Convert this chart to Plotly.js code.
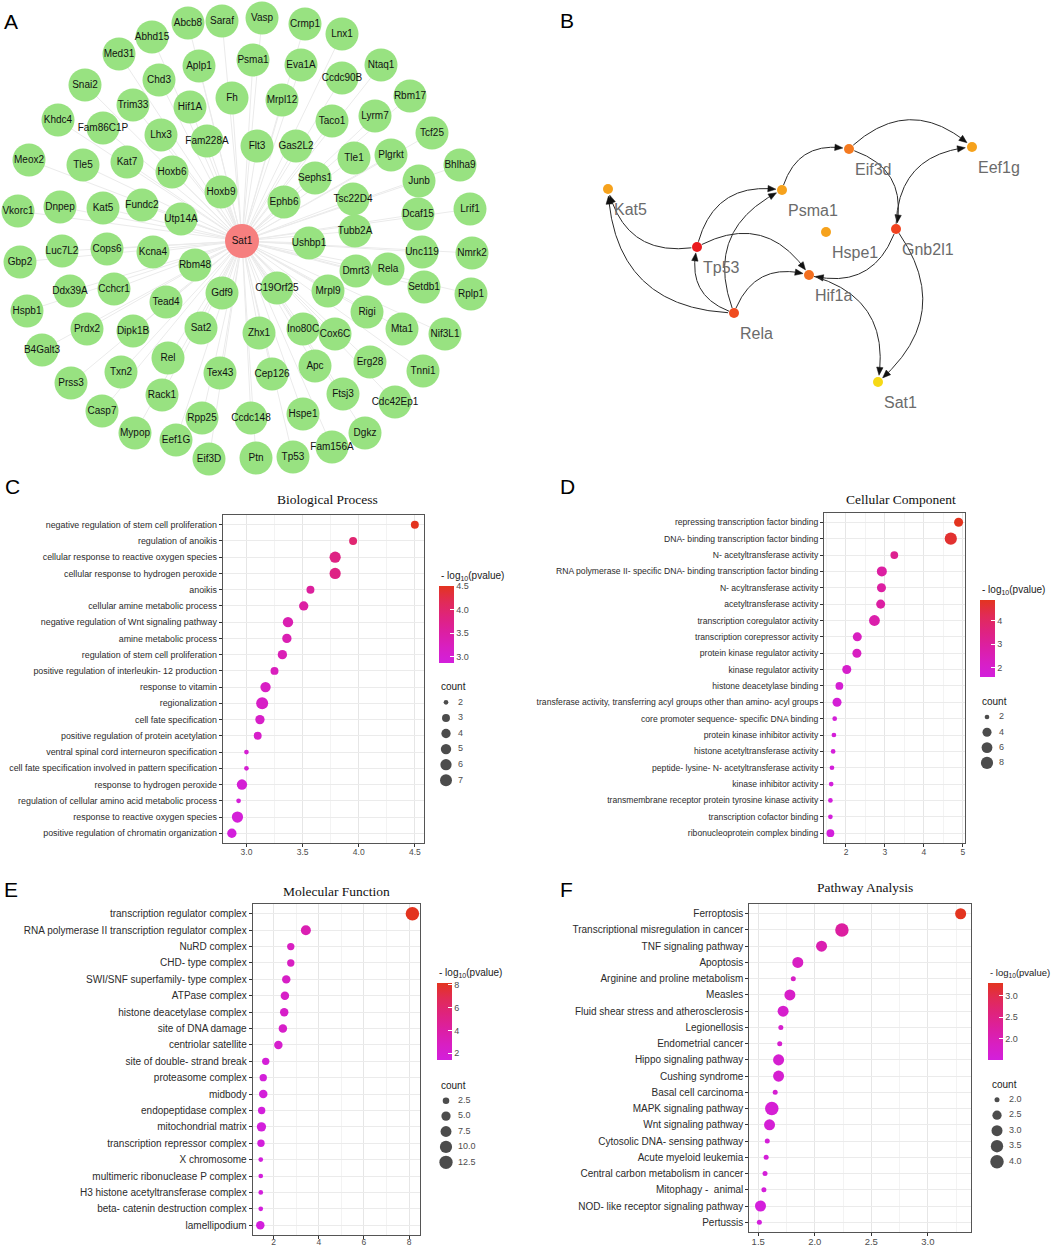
<!DOCTYPE html>
<html><head><meta charset="utf-8">
<script src="https://cdn.plot.ly/plotly-3.0.1.min.js"></script>
<style>html,body{margin:0;padding:0;background:#fff}</style>
</head><body>
<div id="chart" style="width:1052px;height:1248px"></div>
<script>
// ================= DATA =================
// Panel A: Sat1 co-expression network (hub + neighbours)
const hubName = 'Sat1';
const netA_names = ['Abcb8','Saraf','Vasp','Crmp1','Lnx1','Abhd15','Med31','Aplp1','Psma1','Eva1A','Ntaq1','Ccdc90B','Chd3','Snai2','Rbm17','Trim33','Hif1A','Fh','Mrpl12','Khdc4','Fam86C1P','Taco1','Lyrm7','Tcf25','Lhx3','Fam228A','Flt3','Gas2L2','Meox2','Tle5','Kat7','Hoxb6','Tle1','Plgrkt','Bhlha9','Sephs1','Junb','Vkorc1','Dnpep','Kat5','Fundc2','Hoxb9','Ephb6','Tsc22D4','Dcaf15','Lrif1','Utp14A','Tubb2A','Ushbp1','Unc119','Nmrk2','Gbp2','Luc7L2','Cops6','Kcna4','Rbm48','Dmrt3','Rela','Setdb1','Rplp1','Ddx39A','Cchcr1','Tead4','Gdf9','C19Orf25','Mrpl9','Hspb1','Rigi','Prdx2','Dipk1B','Sat2','Zhx1','Ino80C','Cox6C','Mta1','Nif3L1','B4Galt3','Rel','Erg28','Txn2','Tex43','Cep126','Apc','Tnni1','Prss3','Rack1','Ftsj3','Cdc42Ep1','Casp7','Rpp25','Ccdc148','Hspe1','Mypop','Eef1G','Dgkz','Fam156A','Eif3D','Ptn','Tp53'];
// layout coordinates of the network drawing (pixels of panel A)
const hubXY = [242, 241];
const netA_x = [188,222,262,305,342,152,119,199,253,301,381,342,159,85,410,133,190,232,282,58,103,332,375,432,161,207,257,296,29,83,127,172,354,391,460,315,419,18,60,103,142,221,284,353,418,470,181,355,309,422,472,20,62,107,153,195,356,388,424,471,70,114,166,222,277,328,27,367,87,133,201,259,303,335,402,445,42,168,370,121,220,272,315,423,71,162,343,395,102,202,251,303,135,176,365,332,209,256,293];
const netA_y = [23,21,18,24,34,37,54,66,60,65,65,78,80,85,96,105,107,98,100,120,128,121,116,133,135,141,146,146,160,165,162,172,158,155,165,178,181,211,207,208,205,192,202,199,214,209,219,231,243,252,253,262,251,249,252,265,271,269,287,294,291,289,302,293,288,291,311,312,329,331,328,333,329,334,329,334,350,358,362,372,373,374,366,371,383,395,394,402,411,418,418,414,433,440,433,447,459,458,457];

// Panel B: directed regulatory network
const netB_names = ['Kat5','Psma1','Eif3d','Eef1g','Hspe1','Gnb2l1','Tp53','Hif1a','Rela','Sat1'];
const netB_x = [608,782,849,972,826,896,697,809,734,878];
const netB_y = [189,190,149,147,232,229,247,275,313,382];
const netB_from = ['Psma1','Eif3d','Eif3d','Gnb2l1','Gnb2l1','Gnb2l1','Hif1a','Tp53','Rela','Rela','Rela','Tp53','Tp53','Rela'];
const netB_to   = ['Eif3d','Eef1g','Gnb2l1','Eef1g','Hif1a','Sat1','Sat1','Kat5','Kat5','Tp53','Psma1','Psma1','Hif1a','Hif1a'];

// Panel C: Biological Process
const bpTerms = ['negative regulation of stem cell proliferation','regulation of anoikis','cellular response to reactive oxygen species','cellular response to hydrogen peroxide','anoikis','cellular amine metabolic process','negative regulation of Wnt signaling pathway','amine metabolic process','regulation of stem cell proliferation','positive regulation of interleukin- 12 production','response to vitamin','regionalization','cell fate specification','positive regulation of protein acetylation','ventral spinal cord interneuron specification','cell fate specification involved in pattern specification','response to hydrogen peroxide','regulation of cellular amino acid metabolic process','response to reactive oxygen species','positive regulation of chromatin organization'];
const bpLogP  = [4.50,3.95,3.79,3.79,3.57,3.51,3.37,3.36,3.32,3.25,3.17,3.14,3.12,3.10,3.00,3.00,2.96,2.93,2.92,2.87];
const bpCount = [3,3,6,6,3,4,5,4,4,3,5,7,4,3,2,2,5,2,6,4];
const bpLegend = [2,3,4,5,6,7];

// Panel D: Cellular Component
const ccTerms = ['repressing transcription factor binding','DNA- binding transcription factor binding','N- acetyltransferase activity','RNA polymerase II- specific DNA- binding transcription factor binding','N- acyltransferase activity','acetyltransferase activity','transcription coregulator activity','transcription corepressor activity','protein kinase regulator activity','kinase regulator activity','histone deacetylase binding','transferase activity, transferring acyl groups other than amino- acyl groups','core promoter sequence- specific DNA binding','protein kinase inhibitor activity','histone acetyltransferase activity','peptide- lysine- N- acetyltransferase activity','kinase inhibitor activity','transmembrane receptor protein tyrosine kinase activity','transcription cofactor binding','ribonucleoprotein complex binding'];
const ccLogP  = [4.89,4.69,3.24,2.92,2.91,2.89,2.73,2.29,2.28,2.02,1.83,1.77,1.71,1.69,1.67,1.64,1.62,1.60,1.60,1.60];
const ccCount = [4,8,3,5,4,4,6,4,4,4,3,4,2,2,2,2,2,2,2,3];
const ccLegend = [2,4,6,8];

// Panel E: Molecular Function
const mfTerms = ['transcription regulator complex','RNA polymerase II transcription regulator complex','NuRD complex','CHD- type complex','SWI/SNF superfamily- type complex','ATPase complex','histone deacetylase complex','site of DNA damage','centriolar satellite','site of double- strand break','proteasome complex','midbody','endopeptidase complex','mitochondrial matrix','transcription repressor complex','X chromosome','multimeric ribonuclease P complex','H3 histone acetyltransferase complex','beta- catenin destruction complex','lamellipodium'];
const mfLogP  = [8.15,3.43,2.76,2.76,2.56,2.50,2.47,2.41,2.21,1.65,1.54,1.54,1.47,1.46,1.44,1.43,1.43,1.43,1.43,1.41];
const mfCount = [13,6,3,3,4,4,4,4,4,3,3,4,3,5,3,2,2,2,2,4];
const mfLegend = [2.5,5.0,7.5,10.0,12.5];

// Panel F: Pathway Analysis
const kgTerms = ['Ferroptosis','Transcriptional misregulation in cancer','TNF signaling pathway','Apoptosis','Arginine and proline metabolism','Measles','Fluid shear stress and atherosclerosis','Legionellosis','Endometrial cancer','Hippo signaling pathway','Cushing syndrome','Basal cell carcinoma','MAPK signaling pathway','Wnt signaling pathway','Cytosolic DNA- sensing pathway','Acute myeloid leukemia','Central carbon metabolism in cancer','Mitophagy -  animal','NOD- like receptor signaling pathway','Pertussis'];
const kgLogP  = [3.29,2.24,2.06,1.85,1.81,1.78,1.72,1.70,1.69,1.68,1.68,1.65,1.62,1.60,1.58,1.57,1.56,1.55,1.52,1.51];
const kgCount = [3,4,3,3,2,3,3,2,2,3,3,2,4,3,2,2,2,2,3,2];
const kgLegend = [2.0,2.5,3.0,3.5,4.0];

// ================= STYLE / LAYOUT =================
const W = 1052, H = 1248;
const SANS = 'Liberation Sans, Arial, sans-serif';
const SERIF = 'Liberation Serif, Times New Roman, serif';
const CS = [[0,'#d31fdc'],[0.2,'#d81fc2'],[0.4,'#dc1fa2'],[0.6,'#df237e'],[0.8,'#e12b56'],[1,'#e3341f']];
const traces = [];
const annotations = [];
const layout = {
  width: W, height: H, margin: {l:0,r:0,t:0,b:0},
  paper_bgcolor: '#ffffff', plot_bgcolor: 'rgba(0,0,0,0)',
  showlegend: false, font: {family: SANS},
  xaxis5: {domain:[0,1], range:[0,W], visible:false, fixedrange:true},
  yaxis5: {domain:[0,1], range:[H,0], visible:false, fixedrange:true, anchor:'x5'},
  annotations: annotations
};
function pAnno(x, y, text, opt) {
  annotations.push(Object.assign({xref:'x5', yref:'y5', x:x, y:y, text:text, showarrow:false,
    xanchor:'center', yanchor:'middle', font:{family:SANS, size:10, color:'#1a1a1a'}}, opt||{}));
}

// ---------- Panel A ----------
(function(){
  const ex = [], ey = [];
  netA_x.forEach((x,i)=>{ ex.push(hubXY[0], x, null); ey.push(hubXY[1], netA_y[i], null); });
  traces.push({type:'scatter', mode:'lines', x:ex, y:ey, xaxis:'x5', yaxis:'y5',
    line:{color:'#ebebeb', width:1}, hoverinfo:'skip'});
  traces.push({type:'scatter', mode:'markers+text', x:netA_x, y:netA_y, text:netA_names,
    xaxis:'x5', yaxis:'y5', textposition:'middle center', cliponaxis:false,
    marker:{size:33, color:'#98e281', line:{width:0}},
    textfont:{family:SANS, size:10, color:'#111'}, hoverinfo:'text'});
  traces.push({type:'scatter', mode:'markers+text', x:[hubXY[0]], y:[hubXY[1]], text:[hubName],
    xaxis:'x5', yaxis:'y5', textposition:'middle center', cliponaxis:false,
    marker:{size:34, color:'#f67f7f', line:{width:0}},
    textfont:{family:SANS, size:10, color:'#111'}, hoverinfo:'text'});
})();

// ---------- Panel B ----------
(function(){
  const CURV = -0.23, startGap = 5, tipGap = 6, headLen = 8, headW = 3.2;
  const nodeColor = {Kat5:'#f6a21c', Psma1:'#f6a21c', Eif3d:'#f47a20', Eef1g:'#f6a21c', Hspe1:'#f6a21c',
    Gnb2l1:'#f1431f', Tp53:'#ea1a1e', Hif1a:'#f36f20', Rela:'#f04b1f', Sat1:'#f6d916'};
  const pos = name => { const i = netB_names.indexOf(name); return [netB_x[i], netB_y[i]]; };
  netB_from.forEach((f,i)=>{
    const [x0,y0] = pos(f), [x2,y2] = pos(netB_to[i]);
    const dx = x2-x0, dy = y2-y0, L = Math.hypot(dx,dy);
    const nx = -dy/L, ny = dx/L;
    const cx = (x0+x2)/2 + 2*CURV*L*nx, cy = (y0+y2)/2 + 2*CURV*L*ny;
    const pts = [];
    for (let j=0;j<=200;j++){ const t=j/200, u=1-t;
      pts.push([u*u*x0+2*u*t*cx+t*t*x2, u*u*y0+2*u*t*cy+t*t*y2]); }
    let s = 0; while (s<pts.length-1 && Math.hypot(pts[s][0]-x0,pts[s][1]-y0)<startGap) s++;
    let e = pts.length-1; while (e>0 && Math.hypot(pts[e][0]-x2,pts[e][1]-y2)<tipGap) e--;
    const tip = pts[e];
    let k = e; while (k>0 && Math.hypot(pts[k][0]-tip[0],pts[k][1]-tip[1])<headLen) k--;
    let ux = tip[0]-pts[k][0], uy = tip[1]-pts[k][1]; const ul = Math.hypot(ux,uy); ux/=ul; uy/=ul;
    const bx = tip[0]-ux*headLen, by = tip[1]-uy*headLen;
    const lx = [], ly = [];
    for (let j=s;j<=k+1 && j<=e;j++){ lx.push(pts[j][0]); ly.push(pts[j][1]); }
    traces.push({type:'scatter', mode:'lines', x:lx, y:ly, xaxis:'x5', yaxis:'y5',
      line:{color:'#2a2a2a', width:1}, hoverinfo:'skip'});
    traces.push({type:'scatter', mode:'lines', fill:'toself', fillcolor:'#111',
      x:[tip[0], bx-uy*headW, bx+uy*headW, tip[0]], y:[tip[1], by+ux*headW, by-ux*headW, tip[1]],
      xaxis:'x5', yaxis:'y5', line:{color:'#111', width:0.5}, hoverinfo:'skip'});
  });
  traces.push({type:'scatter', mode:'markers', x:netB_x, y:netB_y, xaxis:'x5', yaxis:'y5',
    marker:{size:10, color:netB_names.map(n=>nodeColor[n]), line:{width:0}}, hoverinfo:'skip'});
  traces.push({type:'scatter', mode:'text', x:netB_x.map(v=>v+6), y:netB_y.map(v=>v+22),
    text:netB_names, xaxis:'x5', yaxis:'y5', textposition:'middle right', cliponaxis:false,
    textfont:{family:SANS, size:16, color:'#6b6b6b'}, hoverinfo:'skip'});
})();

// ---------- Dot plots ----------
function dotplot(k, P){
  const ax = k===1 ? '' : String(k);
  const n = P.terms.length;
  const vmin = Math.min(...P.vals), vmax = Math.max(...P.vals), span = vmax - vmin;
  const cmin = Math.min(...P.counts), cmax = Math.max(...P.counts);
  const diam = c => P.dmin + (P.dmax-P.dmin)*Math.sqrt(Math.max(0,(c-cmin))/(cmax-cmin));
  traces.push({type:'scatter', mode:'markers', x:P.vals, y:P.terms, xaxis:'x'+ax, yaxis:'y'+ax,
    cliponaxis:false, hoverinfo:'x+y',
    marker:{size:P.counts.map(diam), color:P.vals, colorscale:CS, cmin:vmin, cmax:vmax,
      line:{width:0}, opacity:1, showscale:true,
      colorbar:{x:P.cb[0]/W, xanchor:'left', y:1-P.cb[1]/H, yanchor:'top',
        len:77, lenmode:'pixels', thickness:15, thicknessmode:'pixels', xpad:0, ypad:0,
        outlinewidth:0, borderwidth:0, ticks:'inside', ticklen:4, tickcolor:'#ffffff', tickwidth:1,
        tickvals:P.cbTicks, tickformat:P.tickfmt, tickfont:{family:SANS, size:9, color:'#4d4d4d'}}}});
  const axisFont = {family:SANS, size:P.fs, color:'#2b2b2b'};
  layout['xaxis'+ax] = {domain:[P.l/W, P.r/W], anchor:'y'+ax, range:[vmin-0.05*span, vmax+0.05*span],
    tick0:0, dtick:P.dtick, tickformat:P.tickfmt, ticks:'outside', ticklen:3, tickcolor:'#333',
    ticklabelstandoff:P.xso,
    tickfont:{family:SANS, size:P.xfs, color:'#4d4d4d'},
    showgrid:true, gridcolor:'#e6e6e6', gridwidth:1, zeroline:false,
    minor:{dtick:P.dtick/2, tick0:0, showgrid:true, gridcolor:'#f3f3f3', gridwidth:1},
    showline:true, mirror:true, linecolor:'#555', linewidth:1, fixedrange:true};
  layout['yaxis'+ax] = {domain:[1-P.b/H, 1-P.t/H], anchor:'x'+ax, type:'category',
    categoryorder:'array', categoryarray:P.terms, range:[n-1+0.6, -0.6],
    ticks:'outside', ticklen:3, tickcolor:'#333', tickfont:axisFont,
    showgrid:true, gridcolor:'#ebebeb', gridwidth:1, zeroline:false,
    showline:true, mirror:true, linecolor:'#555', linewidth:1, fixedrange:true};
  // title
  pAnno(P.title[1], P.title[2], P.title[0], {font:{family:SERIF, size:13.5, color:'#111'}});
  // colour legend title
  pAnno(P.cb[0], P.cb[1]-10, '- log<sub>10</sub>(pvalue)', {xanchor:'left', font:{family:SANS, size:P.cbfs||10, color:'#1a1a1a'}});
  // size legend
  const L = P.leg;
  pAnno(L.x-7, L.y0-15.5, 'count', {xanchor:'left', font:{family:SANS, size:10, color:'#1a1a1a'}});
  traces.push({type:'scatter', mode:'markers', xaxis:'x5', yaxis:'y5', hoverinfo:'skip',
    x:P.legVals.map(()=>L.x), y:P.legVals.map((v,i)=>L.y0+i*L.dy),
    marker:{size:P.legVals.map(diam), color:'#000', line:{width:0}}});
  traces.push({type:'scatter', mode:'text', xaxis:'x5', yaxis:'y5', hoverinfo:'skip', cliponaxis:false,
    x:P.legVals.map(()=>L.x+12), y:P.legVals.map((v,i)=>L.y0+i*L.dy),
    text:P.legVals.map(v=>P.legFmt ? v.toFixed(1) : String(v)), textposition:'middle right',
    textfont:{family:SANS, size:9, color:'#4d4d4d'}});
}

dotplot(1, {terms:bpTerms, vals:bpLogP, counts:bpCount, legVals:bpLegend, legFmt:false,
  l:222.7, r:424, t:515, b:843, dmin:4.7, dmax:12, fs:8.9, xfs:8.5, xso:-2, dtick:0.5, tickfmt:'.1f',
  title:['Biological Process',327,499], cb:[439,586], cbTicks:[3,3.5,4,4.5],
  leg:{x:446, y0:702.3, dy:15.6}});
dotplot(2, {terms:ccTerms, vals:ccLogP, counts:ccCount, legVals:ccLegend, legFmt:false,
  l:824, r:965, t:512.5, b:843, dmin:4.7, dmax:12.2, fs:8.6, xfs:8.5, xso:-2, dtick:1, tickfmt:'d',
  title:['Cellular Component',901,499], cb:[980,600], cbTicks:[2,3,4],
  leg:{x:987, y0:717, dy:15.3}});
dotplot(3, {terms:mfTerms, vals:mfLogP, counts:mfCount, legVals:mfLegend, legFmt:true,
  l:252.7, r:420, t:904, b:1235, dmin:4.7, dmax:13.5, fs:10, xfs:8.5, xso:-4, dtick:2, tickfmt:'d',
  title:['Molecular Function',336,891], cb:[437,983], cbTicks:[2,4,6,8],
  leg:{x:446, y0:1100.7, dy:15.4}});
dotplot(4, {terms:kgTerms, vals:kgLogP, counts:kgCount, legVals:kgLegend, legFmt:true,
  l:749.3, r:970.7, t:904, b:1232, dmin:5, dmax:13.5, fs:10, xfs:9.5, xso:-2, dtick:0.5, tickfmt:'.1f',
  title:['Pathway Analysis',865,887], cb:[988,983], cbTicks:[2,2.5,3], cbfs:9.5,
  leg:{x:997, y0:1099.7, dy:15.5}});

// panel letters
[['A',11,21],['B',567,20],['C',12,486],['D',567,486],['E',11,889],['F',566,889]].forEach(p=>
  pAnno(p[1], p[2], p[0], {font:{family:SANS, size:21, color:'#000'}}));

Plotly.newPlot('chart', traces, layout, {displayModeBar:false, staticPlot:true});
</script>
</body></html>
